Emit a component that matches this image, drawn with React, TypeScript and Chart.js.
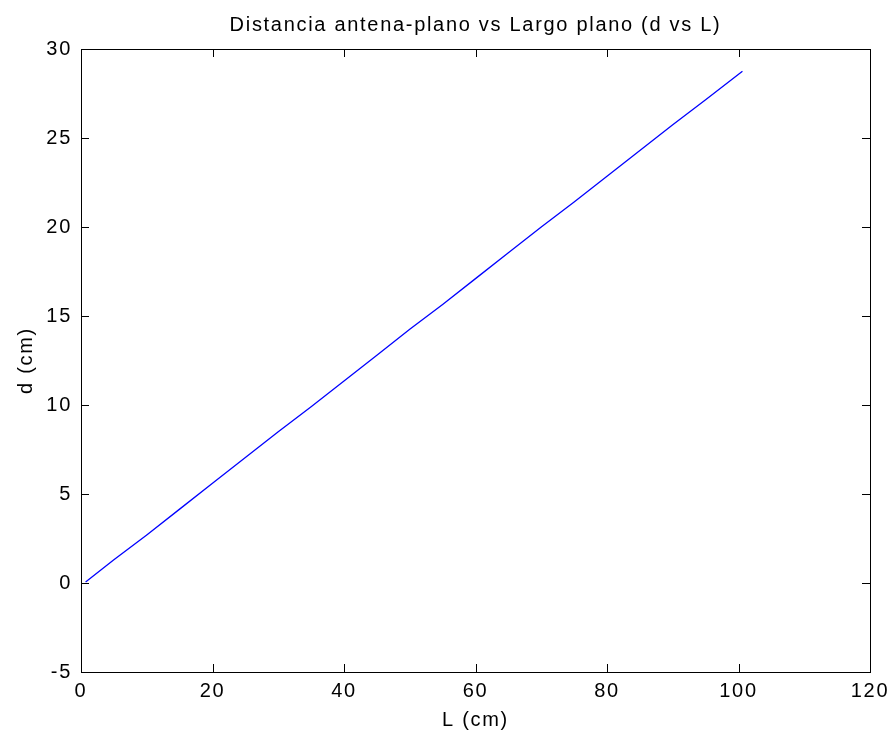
import React, { useEffect, useRef } from "react";
import { Chart, registerables } from "chart.js";

Chart.register(...registerables);

// Measured antenna–plane distance d against plane length L (cm)
const lengthL: number[] = [0.7, 5, 10, 15, 20, 25, 30, 35, 40, 45, 50, 55, 60, 65, 70, 75, 80, 85, 90, 95, 100.6];
const distanceD: number[] = [0.05, 1.3, 2.7, 4.15, 5.6, 7.05, 8.5, 9.9, 11.35, 12.8, 14.25, 15.65, 17.1, 18.55, 20.0, 21.4, 22.85, 24.3, 25.75, 27.15, 28.75];

const xTicks: number[] = [0, 20, 40, 60, 80, 100, 120];
const yTicks: number[] = [-5, 0, 5, 10, 15, 20, 25, 30];

const chartTitle = "Distancia antena-plano vs Largo plano (d vs L)";
const xTitle = "L (cm)";
const yTitle = "d (cm)";

const FONT = "'Liberation Sans', Arial, Helvetica, sans-serif";
const SPACING = "1.7px";

// Wider glyph spacing, reapplied whenever the canvas context is reset
const spacingPlugin = {
  id: "spacing",
  afterInit(chart: any) {
    chart.ctx.letterSpacing = SPACING;
  },
  beforeLayout(chart: any) {
    chart.ctx.letterSpacing = SPACING;
  },
  beforeDraw(chart: any) {
    chart.ctx.letterSpacing = SPACING;
  },
};

// Closed box around the plot with inward-pointing tick marks on all four sides
const boxPlugin = {
  id: "box",
  afterDatasetsDraw(chart: any) {
    const { ctx, chartArea: a, scales } = chart;
    const len = 8;
    ctx.save();
    ctx.strokeStyle = "#000";
    ctx.lineWidth = 1;
    ctx.beginPath();
    for (const v of xTicks) {
      const px = Math.round(scales.x.getPixelForValue(v)) + 0.5;
      ctx.moveTo(px, a.bottom);
      ctx.lineTo(px, a.bottom - len);
      ctx.moveTo(px, a.top);
      ctx.lineTo(px, a.top + len);
    }
    for (const v of yTicks) {
      const py = Math.round(scales.y.getPixelForValue(v)) + 0.5;
      ctx.moveTo(a.left, py);
      ctx.lineTo(a.left + len, py);
      ctx.moveTo(a.right, py);
      ctx.lineTo(a.right - len, py);
    }
    ctx.stroke();
    ctx.strokeRect(Math.round(a.left) + 0.5, Math.round(a.top) + 0.5, Math.round(a.right - a.left), Math.round(a.bottom - a.top));
    ctx.restore();
  },
};

export default function App() {
  const canvasRef = useRef<HTMLCanvasElement | null>(null);

  useEffect(() => {
    if (!canvasRef.current) return;
    const points = lengthL.map((l, i) => ({ x: l, y: distanceD[i] }));
    const chart = new Chart(canvasRef.current, {
      type: "line",
      data: {
        datasets: [
          {
            data: points,
            borderColor: "#0000ff",
            borderWidth: 1.3,
            pointRadius: 0,
            tension: 0,
            fill: false,
          },
        ],
      },
      options: {
        animation: false,
        responsive: true,
        maintainAspectRatio: false,
        layout: { padding: { left: 0, right: 21, top: 0, bottom: 0 } },
        plugins: {
          legend: { display: false },
          tooltip: { enabled: false },
          title: {
            display: true,
            fullSize: false,
            text: chartTitle,
            color: "#000",
            font: { family: FONT, size: 20, weight: "normal", lineHeight: 1.2 },
            padding: { top: 13, bottom: 12 },
          },
        },
        scales: {
          x: {
            type: "linear",
            min: 0,
            max: 120,
            afterBuildTicks: (s: any) => {
              s.ticks = xTicks.map((v) => ({ value: v }));
            },
            afterFit: (s: any) => {
              s.height = 62;
              s.paddingLeft = 0;
              s.paddingRight = 0;
            },
            ticks: {
              color: "#000",
              padding: 7,
              maxRotation: 0,
              font: { family: FONT, size: 20 },
            },
            grid: { display: false, drawTicks: false },
            border: { display: false },
            title: {
              display: true,
              text: xTitle,
              color: "#000",
              font: { family: FONT, size: 20, lineHeight: 1.2 },
              padding: { top: 0, bottom: 2 },
            },
          },
          y: {
            type: "linear",
            min: -5,
            max: 30,
            afterBuildTicks: (s: any) => {
              s.ticks = yTicks.map((v) => ({ value: v }));
            },
            afterFit: (s: any) => {
              s.width = 81;
              s.paddingTop = 0;
              s.paddingBottom = 0;
            },
            ticks: {
              color: "#000",
              padding: 9,
              font: { family: FONT, size: 20 },
            },
            grid: { display: false, drawTicks: false },
            border: { display: false },
            title: {
              display: true,
              text: yTitle,
              color: "#000",
              font: { family: FONT, size: 20, lineHeight: 1.2 },
              padding: { top: 14, bottom: 0 },
            },
          },
        },
      },
      plugins: [spacingPlugin, boxPlugin],
    });
    return () => chart.destroy();
  }, []);

  return (
    <div style={{ position: "fixed", left: 0, top: 0, width: 891, height: 734, background: "#fff" }}>
      <canvas ref={canvasRef} />
    </div>
  );
}
